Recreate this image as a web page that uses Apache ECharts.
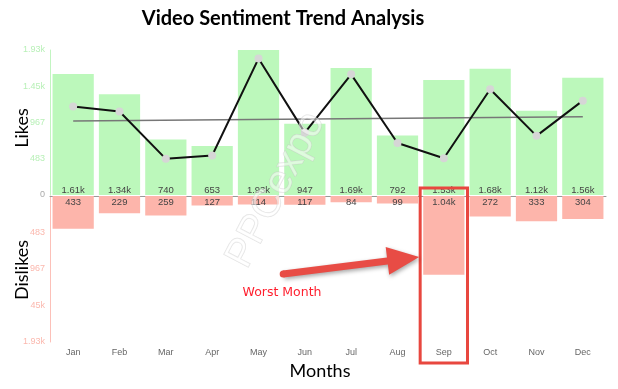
<!DOCTYPE html>
<html><head><meta charset="utf-8">
<script src="https://cdn.jsdelivr.net/npm/echarts@6/dist/echarts.min.js"></script>
<style>html,body{margin:0;padding:0;background:#fff}#c{width:618px;height:389px}</style>
</head><body><div id="c"></div>
<script>
var months = ['Jan','Feb','Mar','Apr','May','Jun','Jul','Aug','Sep','Oct','Nov','Dec'];
var likes = [1610,1340,740,653,1930,947,1690,792,1530,1680,1120,1560];
var dislikes = [433,229,259,127,114,117,84,99,1040,272,333,304];
var net = [1177,1111,481,526,1816,830,1606,693,490,1408,787,1256];
var trend = [985,null,null,null,null,null,null,null,null,null,null,1042];
var likeTicks = ['0','483','967','1.45k','1.93k'];
var dislikeTicks = ['','483','967','45k','1.93k'];
var axisMax = 1930;

function fmt(v){ return v >= 1000 ? (v/1000).toFixed(2) + 'k' : String(v); }

var chart = echarts.init(document.getElementById('c'), null, {renderer:'canvas'});
var labelFont = {fontFamily:'Liberation Sans, Arial, sans-serif', fontSize:9.5, color:'#444'};
chart.setOption({
  animation:false,
  backgroundColor:'#fff',
  grid:[
    {left:50, right:12, top:50, height:145},
    {left:50, right:12, top:196, height:146}
  ],
  xAxis:[
    {type:'category', gridIndex:0, data:months, show:false},
    {type:'category', gridIndex:1, data:months,
      axisLine:{lineStyle:{color:'#999'}},
      axisTick:{alignWithLabel:true, length:4, lineStyle:{color:'#999'}},
      axisLabel:{color:'#666', fontSize:9, fontFamily:'Liberation Sans, Arial, sans-serif', margin:6}}
  ],
  yAxis:[
    {type:'value', gridIndex:0, min:0, max:axisMax, interval:axisMax/4,
      axisLine:{show:true, lineStyle:{color:'#c2f5c1'}}, axisTick:{show:false}, splitLine:{show:false},
      axisLabel:{fontSize:9, fontFamily:'Liberation Sans, Arial, sans-serif', margin:5,
        formatter:function(v,i){ return likeTicks[i]; },
        color:function(v,i){ return i===0 ? '#aaa' : '#b8f0b7'; }}},
    {type:'value', gridIndex:1, min:0, max:axisMax, interval:axisMax/4, inverse:true,
      axisLine:{show:true, lineStyle:{color:'#fcc0b8'}}, axisTick:{show:false}, splitLine:{show:false},
      axisLabel:{fontSize:9, fontFamily:'Liberation Sans, Arial, sans-serif', margin:5,
        formatter:function(v,i){ return dislikeTicks[i]; },
        color:'#fbb8ae'}}
  ],
  series:[
    {type:'bar', name:'Likes', xAxisIndex:0, yAxisIndex:0, data:likes, barCategoryGap:'11%',
      itemStyle:{color:'#bcf8bb'},
      label:{show:true, position:'insideBottom', distance:0, formatter:function(p){return fmt(p.value);},
        fontFamily:labelFont.fontFamily, fontSize:labelFont.fontSize, color:labelFont.color}},
    {type:'bar', name:'Dislikes', xAxisIndex:1, yAxisIndex:1, data:dislikes, barCategoryGap:'11%',
      itemStyle:{color:'#fdb5ab'},
      label:{show:true, position:'insideTop', distance:1, formatter:function(p){return fmt(p.value);},
        fontFamily:labelFont.fontFamily, fontSize:labelFont.fontSize, color:labelFont.color}},
    {type:'line', name:'Trend', xAxisIndex:0, yAxisIndex:0, data:trend, connectNulls:true,
      symbol:'none', lineStyle:{color:'#777', width:1.5}, z:3},
    {type:'line', name:'Net', xAxisIndex:0, yAxisIndex:0, data:net,
      symbol:'circle', symbolSize:8, itemStyle:{color:'#d6d6d6', borderWidth:0},
      lineStyle:{color:'#111', width:2}, z:4}
  ]
});

// annotations positioned from the axes
var sepIdx = months.indexOf('Sep');
var cx = chart.convertToPixel({xAxisIndex:1}, sepIdx);
var halfW = chart.convertToPixel({xAxisIndex:1}, 1) - chart.convertToPixel({xAxisIndex:1}, 0);
halfW = halfW/2;
var y0 = chart.convertToPixel({yAxisIndex:0}, 0);
var yAxisB = chart.convertToPixel({yAxisIndex:1}, axisMax);
var rx0 = cx - halfW - 0.5, rx1 = cx + halfW + 0.5;
var ry0 = y0 - 7, ry1 = yAxisB + 21;

var tip = [rx0 - 1, y0 + 62];
var tail = [tip[0] - 136, y0 + 79];
var dx = tip[0]-tail[0], dy = tip[1]-tail[1], L = Math.sqrt(dx*dx+dy*dy);
var ux = dx/L, uy = dy/L, nx = -uy, ny = ux;
var headLen = 32, sw = 3.5, hw = 14;
var base = [tip[0]-ux*headLen, tip[1]-uy*headLen];
function P(p, k){ return [p[0]+nx*k, p[1]+ny*k]; }
var arrowPts = [P(tail,sw), P(base,sw), P(base,hw), tip, P(base,-hw), P(base,-sw), P(tail,-sw)];

chart.setOption({
  graphic:[
    {type:'text', x:283, y:19, z:100,
      style:{text:'Video Sentiment Trend Analysis', fontFamily:'Lato, sans-serif', fontWeight:'bold', fontSize:20, fill:'#000', align:'center', verticalAlign:'middle'}},
    {type:'text', x:22, y:128, rotation:Math.PI/2, z:100,
      style:{text:'Likes', fontFamily:'Lato, sans-serif', fontSize:18, fill:'#000', align:'center', verticalAlign:'middle'}},
    {type:'text', x:22, y:270, rotation:Math.PI/2, z:100,
      style:{text:'Dislikes', fontFamily:'Lato, sans-serif', fontSize:18, fill:'#000', align:'center', verticalAlign:'middle'}},
    {type:'text', x:320, y:371, z:100,
      style:{text:'Months', fontFamily:'Lato, sans-serif', fontSize:18, fill:'#000', align:'center', verticalAlign:'middle'}},
    {type:'text', x:276, y:190, rotation:1.09, z:50,
      style:{text:'PPCexpo', fontFamily:'Liberation Sans, Arial, sans-serif', fontSize:40, fill:'rgba(255,255,255,0.5)',
        stroke:'rgba(195,195,195,0.5)', lineWidth:1, align:'center', verticalAlign:'middle'}},
    {type:'rect', z:60, shape:{x:rx0, y:ry0, width:rx1-rx0, height:ry1-ry0},
      style:{fill:'none', stroke:'#e8473f', lineWidth:3}},
    {type:'polygon', z:60, shape:{points:arrowPts},
      style:{fill:'#e84c45', shadowBlur:4, shadowColor:'rgba(0,0,0,0.35)', shadowOffsetX:1, shadowOffsetY:2}},
    {type:'circle', z:61, shape:{cx:tail[0], cy:tail[1], r:sw}, style:{fill:'#e84c45'}},
    {type:'text', x:282, y:y0+98, z:60,
      style:{text:'Worst Month', fontFamily:'DejaVu Sans, Verdana, sans-serif', fontSize:12.5, fill:'#ff1f2e', align:'center', verticalAlign:'middle'}}
  ]
});
</script></body></html>
